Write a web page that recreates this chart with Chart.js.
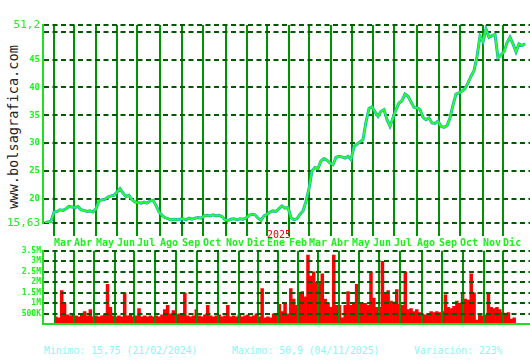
<!DOCTYPE html>
<html>
<head>
<meta charset="utf-8">
<script src="https://cdn.jsdelivr.net/npm/chart.js@4.4.1/dist/chart.umd.min.js"></script>
<style>
	body { margin: 0; background: #ffffff; width: 530px; height: 360px; overflow: hidden; position: relative; }
	#priceBox { position: absolute; left: 0; top: 0; width: 530px; height: 250px; }
	#volumeBox { position: absolute; left: 0; top: 244px; width: 530px; height: 87px; }
	#brand {
		position: absolute; left: -87px; top: 119px; width: 200px; height: 16px; line-height: 16px;
		text-align: center; transform: rotate(-90deg); font: 13.6px "DejaVu Sans Mono", monospace; color: #262626;
	}
	.foot { position: absolute; top: 345px; font: 9.8px "DejaVu Sans Mono", monospace; color: #8cf5f5; white-space: pre; }
</style>
</head>
<body>
<div id="brand">www.bolsagrafica.com</div>
<div id="priceBox"><canvas id="price" width="530" height="250"></canvas></div>
<div id="volumeBox"><canvas id="volume" width="530" height="87"></canvas></div>
<div class="foot" style="left:44px">Minimo: 15,75 (21/02/2024)</div>
<div class="foot" style="left:232px">Maximo: 50,9 (04/11/2025)</div>
<div class="foot" style="left:414px">Variación: 223%</div>
<script>
// closing prices, one sample every ~3 sessions (Feb 2024 -> Dec 2025)
const closes = [
	15.7, 15.8, 15.9, 17.6, 17.7, 18.0, 17.9, 18.2, 18.6, 18.5,
	18.4, 18.6, 18.0, 17.9, 17.7, 17.8, 17.6, 18.2, 19.6, 19.8,
	19.9, 20.3, 20.5, 20.6, 21.2, 21.8, 21.0, 20.4, 20.6, 19.8,
	19.4, 19.3, 19.2, 19.4, 19.2, 19.6, 19.7, 18.8, 17.6, 17.0,
	16.6, 16.4, 16.2, 16.3, 16.2, 16.3, 16.4, 16.2, 16.5, 16.3,
	16.5, 16.6, 16.5, 16.9, 17.0, 16.9, 17.1, 16.9, 17.0, 16.8,
	16.2, 16.1, 16.3, 16.4, 16.2, 16.4, 16.3, 16.5, 17.0, 17.2,
	17.1, 16.5, 16.1, 16.9, 17.2, 17.6, 17.8, 17.7, 18.2, 18.7,
	18.3, 18.4, 16.6, 16.2, 16.4, 17.2, 17.8, 19.5, 21.8, 25.0,
	25.6, 25.4, 26.8, 27.2, 26.9, 26.4, 26.1, 27.4, 27.6, 27.5,
	27.3, 27.6, 27.0, 29.3, 29.8, 30.2, 30.6, 33.8, 36.2, 36.5,
	35.6, 34.8, 35.7, 36.0, 34.2, 33.0, 34.5, 36.0, 37.2, 37.6,
	38.8, 38.4, 37.4, 36.4, 36.3, 36.0, 34.6, 34.2, 34.5, 33.6,
	33.5, 33.9, 33.0, 32.8, 33.1, 34.5, 36.8, 38.8, 39.0, 39.3,
	39.8, 40.8, 42.0, 43.0, 45.5, 49.2, 48.2, 50.5, 49.0, 49.3,
	49.5, 45.3, 45.8, 46.4, 48.0, 49.0, 47.8, 46.4, 47.8, 47.5,
	47.8
];

// volume in millions, same sampling
const volumes = [
	0.35, 0.3, 1.6, 1.0, 0.45, 0.4, 0.45, 0.4, 0.35, 0.45,
	0.6, 0.4, 0.7, 0.35, 0.4, 0.35, 0.4, 0.45, 1.9, 0.8,
	0.4, 0.35, 0.4, 0.35, 1.5, 0.4, 0.45, 0.35, 0.4, 0.75,
	0.35, 0.4, 0.35, 0.4, 0.35, 0.4, 0.35, 0.45, 0.7, 0.9,
	0.5, 0.65, 0.45, 0.5, 0.45, 1.5, 0.4, 0.35, 0.4, 0.7,
	0.4, 0.35, 0.45, 0.9, 0.4, 0.35, 0.4, 0.45, 0.35, 0.4,
	0.9, 0.35, 0.4, 0.35, 0.45, 0.35, 0.4, 0.45, 0.35, 0.4,
	0.5, 0.35, 1.7, 0.3, 0.35, 0.3, 0.5, 0.45, 0.95, 0.6,
	1.0, 0.5, 1.7, 1.2, 0.9, 1.5, 1.55, 1.3, 3.3, 2.3,
	2.5, 2.0, 1.95, 2.4, 1.2, 1.0, 0.8, 3.3, 0.9, 0.9,
	0.3, 0.9, 1.55, 0.9, 1.0, 1.9, 1.0, 1.0, 1.0, 0.9,
	2.5, 1.25, 0.8, 0.8, 3.0, 1.5, 1.6, 1.1, 1.05, 1.65,
	0.95, 0.9, 2.5, 0.7, 0.75, 0.6, 0.7, 0.55, 0.5, 0.45,
	0.5, 0.6, 0.55, 0.6, 0.55, 0.6, 1.4, 0.8, 0.75, 0.85,
	1.1, 1.0, 1.5, 1.2, 1.15, 2.4, 1.5, 0.2, 0.45, 0.4,
	0.45, 1.5, 0.8, 0.75, 0.8, 0.7, 0.55, 0.5, 0.55, 0.25,
	0.3
];

// month boundaries, in sample index
const monthNames = ["Mar", "Abr", "May", "Jun", "Jul", "Ago", "Sep", "Oct", "Nov", "Dic", "Ene",
	"Feb", "Mar", "Abr", "May", "Jun", "Jul", "Ago", "Sep", "Oct", "Nov", "Dic"];
const monthPos = [3.0, 9.7, 17.0, 24.0, 30.7, 38.3, 45.7, 52.7, 60.3, 67.3, 74.0,
	81.3, 88.0, 95.3, 102.3, 109.3, 116.3, 124.0, 131.3, 138.3, 146.0, 152.7];
const yearLabel = "2025";
const yearMonth = 10;

const priceTicks = [15.63, 20, 25, 30, 35, 40, 45, 50, 51.2];
const volumeTicks = [0, 0.5, 1, 1.5, 2, 2.5, 3, 3.5];

const lime = "#22ee22";
const axisGreen = "#22dd22";
const monthGreen = "#009200";
const dashGreen = "#005a00";
const mono = "DejaVu Sans Mono";
const xMin = -2 / 3;
const xMax = closes.length - 1 + 5 / 3;

function monthTicks(scale) {
	scale.ticks = monthPos.map(v => ({ value: v }));
}

const yearPlugin = {
	id: "yearLabel",
	afterDraw(chart) {
		const x = chart.scales.x.getPixelForValue(monthPos[yearMonth]);
		const ctx = chart.ctx;
		ctx.save();
		ctx.font = "10px " + mono;
		ctx.fillStyle = "#ee0000";
		ctx.textAlign = "left";
		ctx.textBaseline = "middle";
		ctx.fillText(yearLabel, x, chart.chartArea.bottom + 12);
		ctx.restore();
	}
};

function drawPrice() {
	const points = closes.map((v, i) => ({ x: i, y: v }));
	const context = document.getElementById("price").getContext("2d");
	new Chart(context, {
		type: "line",
		data: {
			datasets: [
				// first dataset is painted last, so the close line sits on the teal range
				{ data: points, borderColor: "#2bff2b", borderWidth: 1.8, pointRadius: 0, tension: 0 },
				{ data: points, borderColor: "#13a6c6", borderWidth: 3, pointRadius: 0, tension: 0 }
			]
		},
		options: {
			responsive: false,
			animation: false,
			devicePixelRatio: 1,
			layout: { padding: { top: 25, right: 0, left: 0, bottom: 0 } },
			plugins: { legend: { display: false }, tooltip: { enabled: false } },
			scales: {
				x: {
					type: "linear",
					min: xMin,
					max: xMax,
					afterBuildTicks: monthTicks,
					border: { display: false },
					grid: { color: monthGreen, lineWidth: 2, drawTicks: true, tickLength: 13 },
					ticks: {
						align: "start",
						padding: 1,
						maxRotation: 0,
						autoSkip: false,
						color: lime,
						font: { family: mono, size: 10, weight: "bold" },
						callback: (v, i) => monthNames[i]
					}
				},
				y: {
					min: 15.63,
					max: 51.2,
					afterBuildTicks: s => { s.ticks = priceTicks.map(v => ({ value: v })); },
					afterFit: s => { s.width = 43; },
					border: { display: true, color: axisGreen, width: 2, dash: [5, 3.5] },
					grid: { color: dashGreen, lineWidth: 2, drawTicks: false },
					ticks: {
						padding: 3,
						autoSkip: false,
						color: lime,
						font: c => (c.tick && (c.tick.value === 51.2 || c.tick.value === 15.63))
							? { family: mono, size: 11 }
							: { family: mono, size: 9, weight: "bold" },
						callback: v => v === 50 ? "" : String(v).replace(".", ",")
					}
				}
			}
		},
		plugins: [yearPlugin]
	});
}

function drawVolume() {
	const bars = volumes.map((v, i) => ({ x: i, y: v }));
	const context = document.getElementById("volume").getContext("2d");
	new Chart(context, {
		type: "bar",
		data: {
			datasets: [
				{ data: bars, backgroundColor: "#ff0000", borderWidth: 0, barPercentage: 1, categoryPercentage: 1 }
			]
		},
		options: {
			responsive: false,
			animation: false,
			devicePixelRatio: 1,
			layout: { padding: { top: 6, right: 0, left: 0, bottom: 5 } },
			plugins: { legend: { display: false }, tooltip: { enabled: false } },
			scales: {
				x: {
					type: "linear",
					min: xMin,
					max: xMax,
					afterBuildTicks: monthTicks,
					border: { display: true, color: axisGreen, width: 2, z: 2 },
					grid: { color: monthGreen, lineWidth: 2, drawTicks: false, z: 1 },
					ticks: { display: false }
				},
				y: {
					min: 0,
					max: 3.5,
					afterBuildTicks: s => { s.ticks = volumeTicks.map(v => ({ value: v })); },
					afterFit: s => { s.width = 43; },
					border: { display: true, color: axisGreen, width: 2, dash: [5, 3.5], z: 2 },
					grid: { color: dashGreen, lineWidth: 2, drawTicks: false, z: 1 },
					ticks: {
						padding: 2,
						autoSkip: false,
						color: lime,
						font: { family: mono, size: 8, weight: "bold" },
						callback: v => v === 0 ? "" : (v < 1 ? (v * 1000) + "K" : v + "M")
					}
				}
			}
		}
	});
}

document.addEventListener("DOMContentLoaded", _ => {
	drawPrice();
	drawVolume();
});
</script>
</body>
</html>
